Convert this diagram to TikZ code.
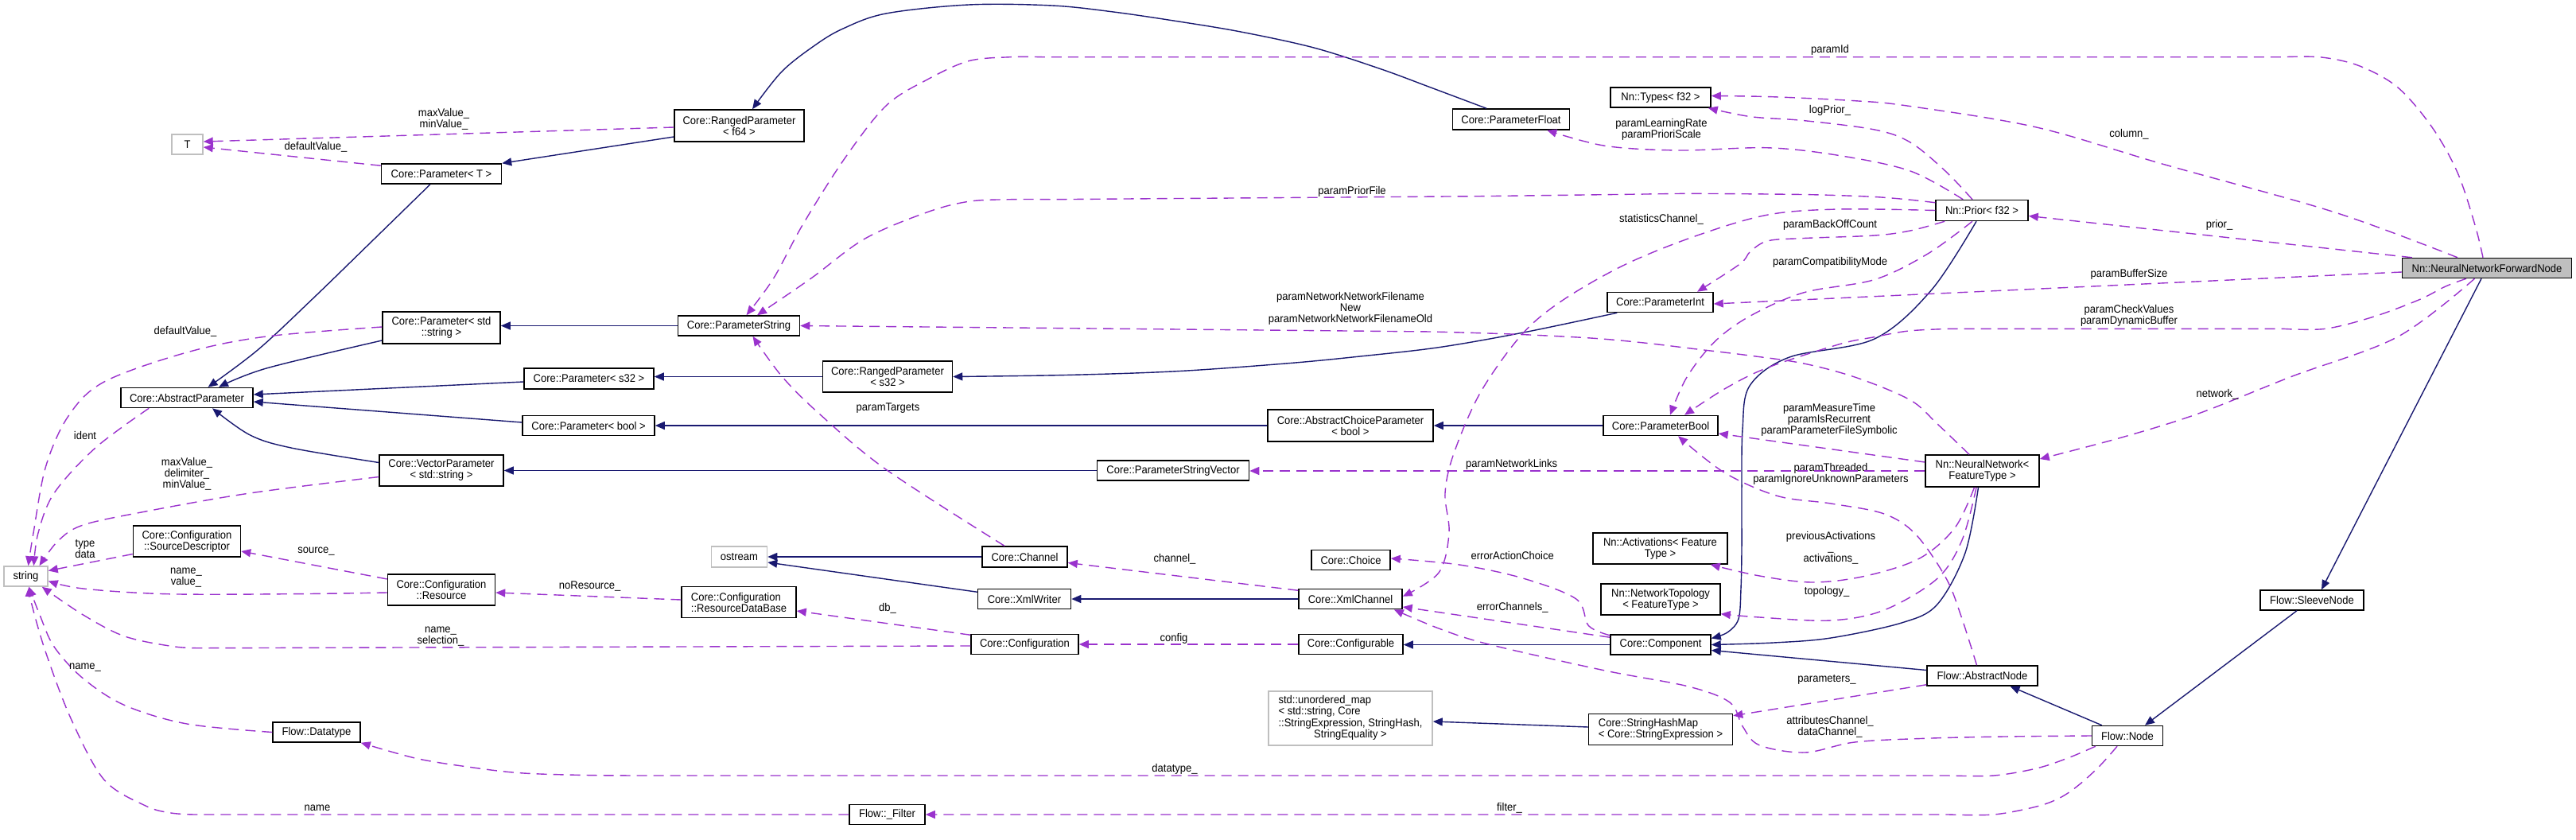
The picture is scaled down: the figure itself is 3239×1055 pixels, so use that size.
\documentclass[tikz,border=0pt]{standalone}
\usepackage{fontspec}
\setmainfont{Liberation Sans}[FakeStretch=0.93]
\usetikzlibrary{arrows.meta,calc}
\definecolor{navy}{HTML}{191970}
\definecolor{purp}{HTML}{9A32CD}
\definecolor{extgray}{HTML}{BFBFBF}
\newcommand\doxfont{\fontsize{14pt}{14pt}\selectfont}
\begin{document}
\begin{tikzpicture}[x=1pt,y=-1pt,
  cls/.style={draw=black, line width=1.5pt, fill=white, inner sep=0pt, align=center, font=\doxfont},
  ext/.style={cls, draw=extgray},
  curnode/.style={cls, fill=extgray},
  lbl/.style={inner sep=0pt, align=center, font=\doxfont},
  inh/.style={draw=navy, line width=1.4pt, -{Triangle[length=12pt,width=10pt]}},
  dep/.style={draw=purp, line width=1.4pt, dash pattern=on 13pt off 8pt, -{Triangle[length=12pt,width=10pt]}},
  sm/.style={smooth, tension=0.55}]
\useasboundingbox (0,0) rectangle (3239,1055);
% ---------------- nodes ----------------
\node[ext, minimum width=39pt, minimum height=25pt] (T) at (235.5,181.5) {T};
\node[cls, minimum width=151pt, minimum height=25pt] (ParT) at (555,218.5) {Core::Parameter< T >};
\node[cls, minimum width=163pt, minimum height=40pt] (RP64) at (929.5,158) {Core::RangedParameter\\< f64 >};
\node[cls, minimum width=147pt, minimum height=26pt] (PFloat) at (1900,150) {Core::ParameterFloat};
\node[cls, minimum width=126pt, minimum height=25pt] (Types) at (2088,122.5) {Nn::Types< f32 >};
\node[cls, minimum width=116pt, minimum height=26pt] (Prior) at (2492,264.5) {Nn::Prior< f32 >};
\node[curnode, minimum width=213pt, minimum height=25pt] (NNFN) at (3127,337) {Nn::NeuralNetworkForwardNode};
\node[cls, minimum width=148pt, minimum height=40pt] (ParStd) at (555,412) {Core::Parameter< std\\::string >};
\node[cls, minimum width=153pt, minimum height=25pt] (PString) at (929,409.5) {Core::ParameterString};
\node[cls, minimum width=133pt, minimum height=25pt] (PInt) at (2087.5,380) {Core::ParameterInt};
\node[cls, minimum width=163pt, minimum height=26pt] (ParS32) at (740.5,476) {Core::Parameter< s32 >};
\node[cls, minimum width=163pt, minimum height=39pt] (RPS32) at (1116,473.5) {Core::RangedParameter\\< s32 >};
\node[cls, minimum width=166pt, minimum height=25pt] (AbsPar) at (235,500) {Core::AbstractParameter};
\node[cls, minimum width=166pt, minimum height=25pt] (ParBool) at (740,535) {Core::Parameter< bool >};
\node[cls, minimum width=208pt, minimum height=40pt] (ACP) at (1698,535) {Core::AbstractChoiceParameter\\< bool >};
\node[cls, minimum width=144pt, minimum height=25pt] (PBool) at (2088,535) {Core::ParameterBool};
\node[cls, minimum width=156pt, minimum height=39pt] (VecPar) at (555,591.5) {Core::VectorParameter\\< std::string >};
\node[cls, minimum width=191pt, minimum height=25pt] (PSV) at (1475,591.5) {Core::ParameterStringVector};
\node[cls, minimum width=143pt, minimum height=40pt] (NN) at (2492.5,592) {Nn::NeuralNetwork<\\FeatureType >};
\node[cls, minimum width=135pt, minimum height=39pt] (SrcDesc) at (235,680.5) {Core::Configuration\\::SourceDescriptor};
\node[ext, minimum width=70pt, minimum height=26pt] (Ostream) at (929.5,700) {ostream};
\node[cls, minimum width=107pt, minimum height=26pt] (Channel) at (1288.5,700) {Core::Channel};
\node[cls, minimum width=99pt, minimum height=25pt] (Choice) at (1698.5,704) {Core::Choice};
\node[cls, minimum width=169pt, minimum height=39pt] (Activ) at (2087.5,689.5) {Nn::Activations< Feature\\Type >};
\node[ext, minimum width=55pt, minimum height=25pt] (string) at (32.5,724.5) {string};
\node[cls, minimum width=135pt, minimum height=39pt] (Resource) at (555,741.5) {Core::Configuration\\::Resource};
\node[cls, minimum width=144pt, minimum height=39pt, align=left] (RDB) at (929,757) {Core::Configuration\\::ResourceDataBase};
\node[cls, minimum width=117pt, minimum height=25pt] (XmlWriter) at (1288,753) {Core::XmlWriter};
\node[cls, minimum width=130pt, minimum height=25pt] (XmlChannel) at (1698,753) {Core::XmlChannel};
\node[cls, minimum width=150pt, minimum height=39pt] (Topo) at (2088,753.5) {Nn::NetworkTopology\\< FeatureType >};
\node[cls, minimum width=130pt, minimum height=25pt] (SleeveNode) at (2907,754.5) {Flow::SleeveNode};
\node[cls, minimum width=135pt, minimum height=25pt] (Config) at (1288.5,810) {Core::Configuration};
\node[cls, minimum width=131pt, minimum height=25pt] (Configurable) at (1698.5,810) {Core::Configurable};
\node[cls, minimum width=126pt, minimum height=25pt] (Component) at (2088,810.5) {Core::Component};
\node[cls, minimum width=139pt, minimum height=25pt] (AbsNode) at (2492.5,849.5) {Flow::AbstractNode};
\node[ext, minimum width=206pt, minimum height=68pt] (UMap) at (1698,903) {\begin{tabular}{@{}l@{}}std::unordered\_map\\< std::string, Core\\::StringExpression, StringHash,\\\multicolumn{1}{@{}c@{}}{StringEquality >}\end{tabular}};
\node[cls, minimum width=181pt, minimum height=39pt, align=left] (SHM) at (2088,917) {Core::StringHashMap\\< Core::StringExpression >};
\node[cls, minimum width=110pt, minimum height=25pt] (Datatype) at (398,920.5) {Flow::Datatype};
\node[cls, minimum width=89pt, minimum height=25pt] (FlowNode) at (2675,925) {Flow::Node};
\node[cls, minimum width=95pt, minimum height=25pt] (Filter) at (1115.5,1024) {Flow::\_Filter};
% ---------------- inheritance ----------------
\draw[inh] ($(RP64.west)+(0,14)$) -- (ParT.north east);
\draw[inh] plot[sm] coordinates {($(PFloat.north)+(-31,0)$) (1799,110) (1736,86.7) (1652,60) (1560,40) (1480,26.7) (1400,15) (1323,7) (1218,6) (1114,17) (1060,36) (1025,56.7) (983,90) ($(RP64.north)+(16.5,0)$)};
\draw[inh] plot[sm] coordinates {($(ParT.south)+(-14,0)$) (471,300) (392,376.7) (324,440) ($(AbsPar.north)+(26.5,0)$)};
\draw[inh] plot[sm] coordinates {($(ParStd.west)+(0,16)$) (335,463) ($(AbsPar.north)+(40,0)$)};
\draw[inh] ($(ParS32.west)+(0,4)$) -- ($(AbsPar.east)+(0,-4)$);
\draw[inh] ($(ParBool.west)+(0,-4)$) -- ($(AbsPar.east)+(0,5)$);
\draw[inh] plot[sm] coordinates {($(VecPar.west)+(0,-10)$) (366,563) (314,546.7) ($(AbsPar.south)+(32,0)$)};
\draw[inh] (PString.west) -- (PString.west -| ParStd.east);
\draw[inh] (RPS32.west) -- (RPS32.west -| ParS32.east);
\draw[inh] plot[sm] coordinates {($(PInt.south west)+(13,0)$) (1914,418.3) (1809,436.7) (1710,448) (1620,456.7) (1480,466.7) (1340,471.5) (RPS32.east)};
\draw[inh] (ACP.west) -- (ACP.west -| ParBool.east);
\draw[inh] (PBool.west) -- (PBool.west -| ACP.east);
\draw[inh] (PSV.west) -- (PSV.west -| VecPar.east);
\draw[inh] (Channel.west) -- (Channel.west -| Ostream.east);
\draw[inh] ($(XmlWriter.north west)+(0,4.5)$) -- ($(Ostream.east)+(0,7)$);
\draw[inh] (XmlChannel.west) -- (XmlChannel.west -| XmlWriter.east);
\draw[inh] (Component.west) -- (Component.west -| Configurable.east);
\draw[inh] plot[sm] coordinates {($(Prior.south)+(-7,0)$) (2428.6,364.5) (2357,426) (2250,449) (2200,485) (2191,540) (2190,620) (2190,690) (2189,740) (2186,778) (2172,795) ($(Component.east)+(0,-8)$)};
\draw[inh] plot[sm] coordinates {($(NN.south)+(-5,0)$) (2471,695) (2435.7,760) (2391,783) (2302,802) (2230,808) (Component.east)};
\draw[inh] ($(AbsNode.west)+(0,-7)$) -- ($(Component.east)+(0,7)$);
\draw[inh] ($(FlowNode.north west)+(13,0)$) -- ($(AbsNode.south)+(35,0)$);
\draw[inh] ($(SleeveNode.south)+(-19,0)$) -- ($(FlowNode.north)+(22,0)$);
\draw[inh] ($(NNFN.south)+(-7,0)$) -- ($(SleeveNode.north)+(12,0)$);
\draw[inh] ($(SHM.west)+(0,-3)$) -- ($(UMap.east)+(0,4)$);
% ---------------- usage ----------------
\draw[dep] ($(RP64.west)+(0,2)$) -- ($(T.east)+(0,-3.5)$);
\node[lbl] (l1) at (558,150) {maxValue\_\\minValue\_};
\draw[dep] ($(ParT.north west)+(0,3)$) -- ($(T.east)+(0,3.5)$);
\node[lbl] (l2) at (397,185) {defaultValue\_};
\draw[dep] plot[sm] coordinates {($(ParStd.west)+(0,-1)$) (335,423) (235,443) (131,480) (86,523) (57.5,586.7) (42,670) ($(string.north)+(3,0)$)};
\node[lbl] (l3) at (233,416.7) {defaultValue\_};
\draw[dep] plot[sm] coordinates {($(AbsPar.south west)+(36,0)$) (120,563) (68,620) (48,670) ($(string.north)+(10,0)$)};
\node[lbl] (l4) at (107,547) {ident};
\draw[dep] plot[sm] coordinates {($(VecPar.west)+(0,8)$) (314,620) (183,643) (104.6,660) (73,680) ($(string.north)+(17,0)$)};
\node[lbl] (l5) at (235,596) {maxValue\_\\delimiter\_\\minValue\_};
\draw[dep] ($(SrcDesc.west)+(0,16)$) -- ($(string.east)+(0,-7)$);
\node[lbl] (l6) at (107,690) {type\\data};
\draw[dep] plot[sm] coordinates {($(Resource.west)+(0,3.5)$) (366,746.7) (209,746.7) (104.6,740) ($(string.east)+(0,6)$)};
\node[lbl] (l7) at (234,726) {name\_\\value\_};
\draw[dep] ($(Config.west)+(0,2)$) -- plot[sm] coordinates {(260,814.7) (220,813) (157,800) (104.6,773) ($(string.south east)+(-8,0)$)};
\node[lbl] (l8) at (554,800) {name\_\\selection\_};
\draw[dep] plot[sm] coordinates {(Datatype.west) (235,910) (157,886.7) (104.6,853) (68,813) (50,773) ($(string.south)+(4,0)$)};
\node[lbl] (l9) at (107,839) {name\_};
\draw[dep] (Filter.west) -- plot[sm] coordinates {(245,1024) (215,1022) (183,1013) (130.7,980) (89,903) (57.5,820) (40,760) ($(string.south)+(4,0)$)};
\node[lbl] (l10) at (399,1016) {name};
\draw[dep] ($(Resource.west)+(0,-13.5)$) -- ($(SrcDesc.east)+(0,12.5)$);
\node[lbl] (l11) at (397.5,693) {source\_};
\draw[dep] ($(RDB.west)+(0,-3)$) -- ($(Resource.east)+(0,3.5)$);
\node[lbl] (l12) at (741.6,737) {noResource\_};
\draw[dep] ($(Config.north west)+(0,1.5)$) -- ($(RDB.east)+(0,11)$);
\node[lbl] (l13) at (1116,765) {db\_};
\draw[dep] plot[sm] coordinates {($(FlowNode.south west)+(5,0)$) (2600,953) (2560.5,966) (2507,975) (2450,975)} -- plot[sm] coordinates {(820,975) (737,974.5) (653.7,971.7) (588,964) (523,953.3) (Datatype.south east)};
\node[lbl] (l14) at (1477,967) {datatype\_};
\draw[dep] plot[sm] coordinates {($(FlowNode.south)+(-13,0)$) (2640,963) (2614,986.7) (2590,1003) (2560.5,1014) (2507,1024) (2450,1024)} -- (Filter.east);
\node[lbl] (l15) at (1898,1016) {filter\_};
\draw[dep] plot[sm] coordinates {($(Channel.north)+(-25.5,0)$) (1113.8,590) (1030,520) (983,473) ($(PString.south)+(17.5,0)$)};
\node[lbl] (l16) at (1116.5,512.7) {paramTargets};
\draw[dep] ($(XmlChannel.north west)+(0,2.5)$) -- ($(Channel.east)+(0,7.5)$);
\node[lbl] (l17) at (1477,702.7) {channel\_};
\draw[dep] (Configurable.west) -- (Configurable.west -| Config.east);
\node[lbl] (l18) at (1476,803) {config};
\draw[dep] plot[sm] coordinates {($(Component.north west)+(0,1.5)$) (1997.5,786.7) (1981.8,753) (1914,726.7) (1835,710) ($(Choice.east)+(0,-2)$)};
\node[lbl] (l19) at (1901.7,698.3) {errorActionChoice};
\draw[dep] ($(Component.north west)+(0,4)$) -- ($(XmlChannel.east)+(0,10)$);
\node[lbl] (l20) at (1901.7,764) {errorChannels\_};
\draw[dep] plot[sm] coordinates {(Prior.west) (2312,263) (2223,270) (2134,296) (2044.6,332) (1966,376.7) (1914,420) (1861.5,493.3) (1828,570) (1817,620) (1822,670) (1809,720) ($(XmlChannel.north east)+(0,10)$)};
\node[lbl] (l21) at (2089,276) {statisticsChannel\_};
\draw[dep] plot[sm] coordinates {(FlowNode.west) (2520,926) (2420,928.3) (2332,933) (2269.5,946) (2212,936.7) (2191,913) (2175,883) (2123,863) (2018,843) (1872,810) (1809,790) ($(XmlChannel.south east)+(-11,0)$)};
\node[lbl] (l22) at (2301,913.5) {attributesChannel\_\\dataChannel\_};
\draw[dep] plot[sm] coordinates {($(AbsNode.north)+(-7,0)$) (2466,775) (2447,727) (2409,672) (2369,646) (2302,633) (2235,623.5) (2168,594) ($(PBool.south)+(22,0)$)};
\node[lbl] (l23) at (2302,595.5) {paramThreaded\\paramIgnoreUnknownParameters};
\draw[dep] ($(NN.west)+(0,-11)$) -- ($(PBool.east)+(0,10)$);
\node[lbl] (l24) at (2300,527.5) {paramMeasureTime\\paramIsRecurrent\\paramParameterFileSymbolic};
\draw[dep] (NN.west) -- (NN.west -| PSV.east);
\node[lbl] (l25) at (1900.7,584) {paramNetworkLinks};
\draw[dep] plot[sm] coordinates {($(NN.north)+(-16.5,0)$) (2436,533) (2402,503) (2335,475) (2268,457) (2200,447) (2134,439) (2067,431) (2000,425) (1900,420) (1800,417)} -- (PString.east);
\node[lbl] (l26) at (1698,388) {paramNetworkNetworkFilename\\New\\paramNetworkNetworkFilenameOld};
\draw[dep] plot[sm] coordinates {($(NNFN.north)+(-5,0)$) (3112,283) (3090,217) (3058,160) (3015,110) (2967,83) (2919,72) (2870,71.7)} -- plot[sm] coordinates {(1310,71.7) (1270.7,71.7) (1218,76.7) (1166,100) (1114,133) (1061.5,200) (1009,283) (972.6,350) ($(PString.north)+(9.5,0)$)};
\node[lbl] (l27) at (2301,62.7) {paramId};
\draw[dep] plot[sm] coordinates {($(Prior.north west)+(0,4)$) (2400,251) (2357,247.5) (2290,245) (2223,244) (2123,243.3)} -- (1861.5,246.7) -- plot[sm] coordinates {(1320,250.7) (1270.7,250.7) (1218,253.3) (1166,266.7) (1087.6,300) (1019.7,350) ($(PString.north)+(23,0)$)};
\node[lbl] (l28) at (1700,241) {paramPriorFile};
\draw[dep] plot[sm] coordinates {($(NNFN.north)+(-37,0)$) (2935,266.7) (2721,206.7) (2560.5,160) (2400,133.3) (2332,126.7) (2227.6,121.7) ($(Types.east)+(0,-2)$)};
\node[lbl] (l29) at (2677,169) {column\_};
\draw[dep] plot[sm] coordinates {($(Prior.north)+(-12,0)$) (2446,215) (2402,179) (2357,163) (2268,151.6) (2201.5,146.7) ($(Types.south east)+(-4,0)$)};
\node[lbl] (l30) at (2301,139) {logPrior\_};
\draw[dep] plot[sm] coordinates {($(Prior.north west)+(35,0)$) (2402,215) (2312.5,195.5) (2223,185.8) (2111.6,189) (2018,183.3) ($(PFloat.south east)+(-29,0)$)};
\node[lbl] (l31) at (2089,163) {paramLearningRate\\paramPrioriScale};
\draw[dep] plot[sm] coordinates {($(Prior.south west)+(12,0)$) (2402,290) (2357,296) (2268,299.5) (2223,302.8) (2201,316) (2187.5,332) ($(PInt.north)+(46.5,0)$)};
\node[lbl] (l32) at (2301,283) {paramBackOffCount};
\draw[dep] plot[sm] coordinates {($(Prior.south)+(-12,0)$) (2424,319) (2357,351.5) (2268,367.8) (2201,397) (2156,429.5) (2120.5,475) ($(PBool.north)+(12,0)$)};
\node[lbl] (l33) at (2301,330) {paramCompatibilityMode};
\draw[dep] ($(NNFN.west)+(0,5)$) -- ($(PInt.east)+(0,2)$);
\node[lbl] (l34) at (2677,345) {paramBufferSize};
\draw[dep] plot[sm] coordinates {($(NNFN.south)+(-26,0)$) (3075,360) (3042,376.7) (2985,398) (2924,413.3) (2870,413.3)} -- (2500,413.3) -- plot[sm] coordinates {(2453.5,413.3) (2400,416) (2355,424) (2312.5,432.8) (2223,462) (2170,488) ($(PBool.north)+(30,0)$)};
\node[lbl] (l35) at (2677,397) {paramCheckValues\\paramDynamicBuffer};
\draw[dep] plot[sm] coordinates {($(NNFN.south)+(-15.5,0)$) (3015,423.3) (2881.5,473.3) (2764,520) (2667.5,550) ($(NN.east)+(0,-15)$)};
\node[lbl] (l36) at (2788,495.7) {network\_};
\draw[dep] ($(NNFN.north west)+(13,0)$) -- ($(Prior.east)+(0,7)$);
\node[lbl] (l37) at (2790.6,283.3) {prior\_};
\draw[dep] plot[sm] coordinates {($(NN.south)+(-10,0)$) (2458,663.5) (2413.5,702) (2346,724) (2279.5,732) (2212.5,724) ($(Activ.south east)+(-22,0)$)};
\node[lbl] (l38) at (2302,688.5) {previousActivations\\\_\\activations\_};
\draw[dep] plot[sm] coordinates {($(NN.south)+(-7.5,0)$) (2467,679) (2435.7,727.5) (2369,767) (2302,780) (2212.5,776) ($(Topo.south east)+(0,-2)$)};
\node[lbl] (l39) at (2297,744) {topology\_};
\draw[dep] ($(AbsNode.south west)+(0,-2)$) -- ($(SHM.north east)+(0,3)$);
\node[lbl] (l40) at (2297,854) {parameters\_};
\end{tikzpicture}
\end{document}
